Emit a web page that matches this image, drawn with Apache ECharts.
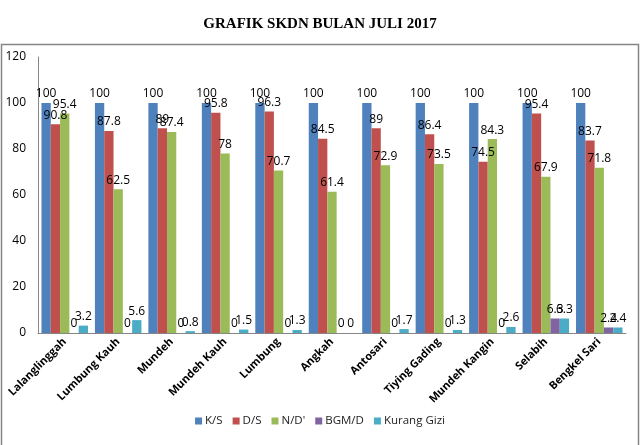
<!DOCTYPE html>
<html><head><meta charset="utf-8">
<script src="https://cdn.jsdelivr.net/npm/echarts@6/dist/echarts.min.js"></script>
<style>html,body{margin:0;padding:0;background:#fff}#c{width:640px;height:445px}</style>
</head><body><div id="c"></div>
<script>
var categories = ['Lalanglinggah','Lumbung Kauh','Mundeh','Mundeh Kauh','Lumbung','Angkah','Antosari','Tiying Gading','Mundeh Kangin','Selabih','Bengkel Sari'];
var seriesNames = ['K/S','D/S',"N/D'",'BGM/D','Kurang Gizi'];
var ks = [100,100,100,100,100,100,100,100,100,100,100];
var ds = [90.8,87.8,89,95.8,96.3,84.5,89,86.4,74.5,95.4,83.7];
var nd = [95.4,62.5,87.4,78,70.7,61.4,72.9,73.5,84.3,67.9,71.8];
var bgm = [0,0,0,0,0,0,0,0,0,6.3,2.4];
var kurang = [3.2,5.6,0.8,1.5,1.3,0,1.7,1.3,2.6,6.3,2.4];
var yTicks = [0,20,40,60,80,100,120];
var colors = ['#4F81BD','#C0504D','#9BBB59','#8064A2','#4BACC6'];
var font = 'Open Sans, Noto Sans, sans-serif';
var allData = [ks,ds,nd,bgm,kurang];
var chart = echarts.init(document.getElementById('c'));
chart.setOption({
  animation:false,
  color: colors,
  title:{text:'GRAFIK SKDN BULAN JULI 2017',left:'center',top:12,textStyle:{fontFamily:'Liberation Serif, serif',fontWeight:'bold',fontSize:15,color:'#000'}},
  graphic:[{type:'rect',shape:{x:1.5,y:44.5,width:637,height:420},style:{fill:'none',stroke:'#868686',lineWidth:1.5},z:-1}],
  legend:{bottom:13,left:'center',itemWidth:7,itemHeight:7,itemGap:10,icon:'rect',textStyle:{fontFamily:font,fontSize:11.5,color:'#222',padding:[0,0,0,-2]},data:seriesNames},
  grid:{left:38,right:14,top:57,bottom:112,containLabel:false},
  xAxis:{type:'category',data:categories,axisLine:{lineStyle:{color:'#868686'}},axisTick:{show:false},
    axisLabel:{rotate:45,interval:0,fontFamily:font,fontWeight:'bold',fontSize:11,color:'#000',margin:7}},
  yAxis:{type:'value',min:yTicks[0],max:yTicks[yTicks.length-1],interval:20,splitLine:{show:false},axisLine:{show:true,lineStyle:{color:'#868686'}},axisTick:{show:false},
    axisLabel:{fontFamily:font,fontSize:12,color:'#000',margin:12}},
  series: seriesNames.map(function(n,i){return {name:n,type:'bar',data:allData[i],barGap:'0%',barCategoryGap:'13%',
    label:{show:true,position:'top',distance:3,fontFamily:font,fontSize:12,color:'#000'}};})
});
</script></body></html>
